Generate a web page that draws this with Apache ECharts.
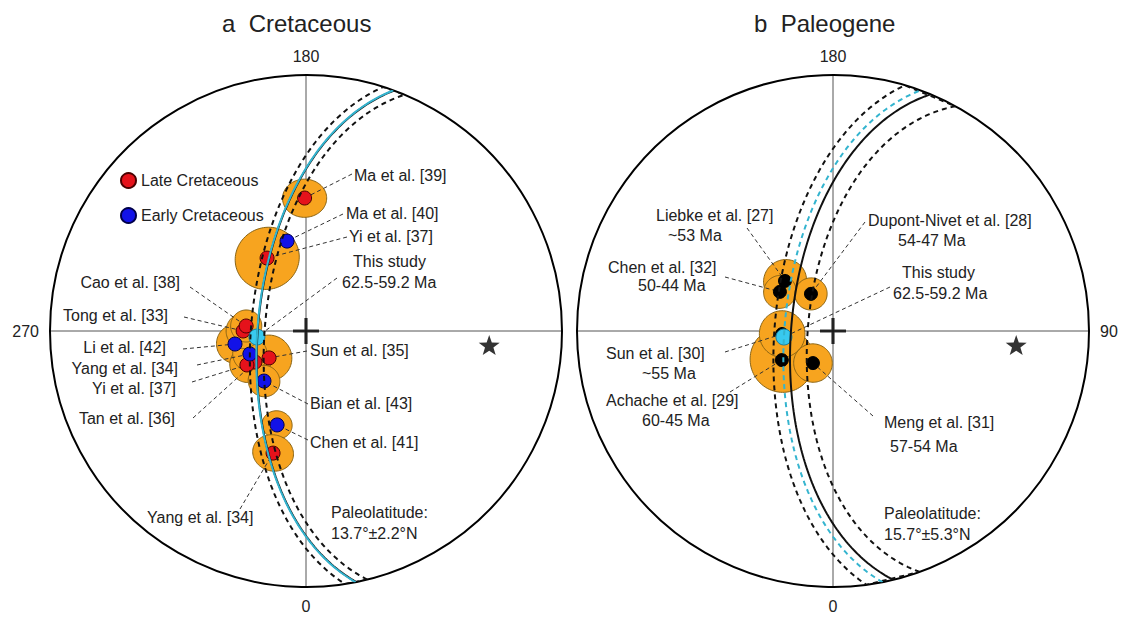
<!DOCTYPE html>
<html>
<head>
<meta charset="utf-8">
<script src="https://cdn.jsdelivr.net/npm/echarts@6/dist/echarts.min.js"></script>
<style>
  html, body { margin: 0; padding: 0; background: #fff; }
  #chart { width: 1126px; height: 617px; }
</style>
</head>
<body>
<div id="chart"></div>
<script>
// ---------------- data ----------------
// Sampling site (star), degrees
const siteLon = 85.6;
const siteLat = 29;

// Cretaceous paleopoles: longitude (°E), latitude (°N), A95 (°); listed in drawing order
const cretNames = ['Li et al. [42]', 'Sun et al. [35]', 'Tan et al. [36]', 'Yi et al. [37]', 'Yang et al. [34]',
  'Tong et al. [33]', 'Cao et al. [38]', 'Bian et al. [43]', 'Chen et al. [41]', 'Yang et al. [34]',
  'Yi et al. [37]', 'Ma et al. [40]', 'Ma et al. [39]'];
const cretAge = ['Early', 'Late', 'Late', 'Late', 'Early', 'Late', 'Late', 'Early', 'Early', 'Late', 'Late', 'Early', 'Late'];
const cretLon = [280.4, 306.1, 301.3, 299.9, 292.3, 270.0, 265.2, 320.0, 342.9, 344.9, 208.1, 191.9, 180.6];
const cretLat = [67.0, 75.5, 71.0, 68.3, 70.7, 70.0, 70.9, 69.2, 58.5, 49.1, 63.6, 60.6, 46.9];
const cretA95 = [6.0, 7.2, 5.0, 5.5, 5.5, 5.5, 5.0, 5.0, 4.6, 6.1, 10.0, 0, 6.5];
const cretPaleolat = 13.7;
const cretPaleolatErr = 2.2;

// Paleogene paleopoles; listed in drawing order
const paleoNames = ['Achache et al. [29]', 'Liebke et al. [27]', 'Chen et al. [32]', 'Dupont-Nivet et al. [28]', 'Sun et al. [30]', 'Meng et al. [31]'];
const paleoAges = ['60-45 Ma', '~53 Ma', '50-44 Ma', '54-47 Ma', '~55 Ma', '57-54 Ma'];
const paleoLon = [299.6, 223.8, 233.6, 210.7, 273.4, 328.0];
const paleoLat = [71.3, 67.9, 69.0, 76.3, 73.8, 78.0];
const paleoA95 = [10.2, 6.8, 5.2, 5.1, 7.3, 6.1];
const paleoPaleolat = 15.7;
const paleoPaleolatErr = 5.3;

// This study
const studyName = 'This study';
const studyAge = '62.5-59.2 Ma';
const studyLon = 277.0;
const studyLat = 74.3;

// Panel titles and azimuth tick labels
const panelTitles = ['a  Cretaceous', 'b  Paleogene'];
const leftTicks = { 0: '0', 180: '180', 270: '270' };
const rightTicks = { 0: '0', 90: '90', 180: '180' };
const legendNames = ['Late Cretaceous', 'Early Cretaceous'];

// ---------------- layout ----------------
const FONT = '"Liberation Sans", Arial, Helvetica, sans-serif';
const TXT = '#222';
const ORANGE = '#F7A41F';
const ORANGE_EDGE = '#8a6414';
const RED = '#E5121B';
const BLUE = '#1212E8';
const CYAN_LINE = '#33B4CF';
const CYAN_DOT = '#38C9EF';

// label text anchor (pixels), alignment, and where the leader line leaves the label
const cretLabelPos = [
  { x: 166, y: 347, align: 'right', lx: 183, ly: 349 },
  { x: 310, y: 350, align: 'left', lx: 307, ly: 351 },
  { x: 175, y: 418, align: 'right', lx: 193, ly: 418 },
  { x: 176, y: 388, align: 'right', lx: 192, ly: 382 },
  { x: 178, y: 368, align: 'right', lx: 197, ly: 365 },
  { x: 168, y: 315, align: 'right', lx: 184, ly: 317 },
  { x: 180, y: 282, align: 'right', lx: 190, ly: 287 },
  { x: 310, y: 403, align: 'left', lx: 308, ly: 404 },
  { x: 310, y: 442, align: 'left', lx: 308, ly: 440 },
  { x: 147, y: 517, align: 'left', lx: 240, ly: 509 },
  { x: 349, y: 236, align: 'left', lx: 347, ly: 237 },
  { x: 346, y: 213, align: 'left', lx: 343, ly: 214 },
  { x: 354, y: 175, align: 'left', lx: 352, ly: 174 }
];
const paleoLabelPos = [
  { x1: 606, y1: 400, x2: 642, y2: 420, lx: 730, ly: 392 },
  { x1: 656, y1: 215, x2: 668, y2: 235, lx: 747, ly: 228 },
  { x1: 608, y1: 267, x2: 638, y2: 285, lx: 725, ly: 277 },
  { x1: 868, y1: 220, x2: 898, y2: 240, lx: 865, ly: 222 },
  { x1: 606, y1: 353, x2: 642, y2: 373, lx: 725, ly: 352 },
  { x1: 884, y1: 422, x2: 890, y2: 446, lx: 873, ly: 416 }
];
const studyLabelPos = [
  { x1: 353, y1: 261, x2: 342, y2: 282, lx: 337, ly: 278 },
  { x1: 902, y1: 272, x2: 893, y2: 293, lx: 890, ly: 287 }
];

// ---------------- spherical helpers ----------------
const D2R = Math.PI / 180;
// Lambert equal-area polar projection: [radius (1 at equator), azimuth]
function eqArea(lon, lat) {
  const colat = (90 - lat) * D2R;
  return [Math.SQRT2 * Math.sin(colat / 2), ((lon % 360) + 360) % 360];
}
// point reached from (lon0, lat0) after angular distance rho along bearing brg
function dest(lon0, lat0, rho, brg) {
  const f0 = lat0 * D2R, r = rho * D2R, b = brg * D2R;
  const sf = Math.sin(f0) * Math.cos(r) + Math.cos(f0) * Math.sin(r) * Math.cos(b);
  const f = Math.asin(Math.max(-1, Math.min(1, sf)));
  const dl = Math.atan2(Math.sin(b) * Math.sin(r) * Math.cos(f0), Math.cos(r) - Math.sin(f0) * sf);
  return [lon0 + dl / D2R, f / D2R];
}
function angDist(lon1, lat1, lon2, lat2) {
  const c = Math.sin(lat1 * D2R) * Math.sin(lat2 * D2R) +
    Math.cos(lat1 * D2R) * Math.cos(lat2 * D2R) * Math.cos((lon2 - lon1) * D2R);
  return Math.acos(Math.max(-1, Math.min(1, c))) / D2R;
}
// confidence cone around a pole
function coneRing(lon, lat, a95) {
  const pts = [];
  for (let b = 0; b < 360; b += 4) {
    const p = dest(lon, lat, a95, b);
    pts.push(eqArea(p[0], p[1]));
  }
  return pts;
}
// locus of poles giving a paleolatitude at the site (northern hemisphere part)
function latArc(paleolat) {
  const rho = 90 - paleolat;
  const f0 = siteLat * D2R, r = rho * D2R;
  const c = -Math.sin(f0) * Math.cos(r) / (Math.cos(f0) * Math.sin(r));
  const b0 = Math.acos(Math.max(-1, Math.min(1, c))) / D2R;
  const n = 180, pts = [];
  for (let k = 0; k <= n; k++) {
    const p = dest(siteLon, siteLat, rho, -b0 + 2 * b0 * k / n);
    pts.push(eqArea(p[0], Math.max(0, p[1])));
  }
  return pts;
}
function band(paleolat, err) {
  const inner = latArc(paleolat + err);
  const outer = latArc(paleolat - err).reverse();
  return inner.concat(outer, [inner[0]]);
}
const studyPaleolat = 90 - angDist(siteLon, siteLat, studyLon, studyLat);

// ---------------- series builders ----------------
function coneSeries(pi, lons, lats, a95s) {
  const idx = a95s.map((v, i) => i).filter(i => a95s[i] > 0);
  return {
    type: 'custom', coordinateSystem: 'polar', polarIndex: pi, silent: true,
    data: idx.map(i => eqArea(lons[i], lats[i])),
    renderItem: function (params, api) {
      const i = idx[params.dataIndex];
      const ring = coneRing(lons[i], lats[i], a95s[i]).map(q => api.coord(q));
      return { type: 'polygon', shape: { points: ring },
        style: { fill: ORANGE, stroke: ORANGE_EDGE, lineWidth: 1 } };
    }
  };
}
function leaderSeries(pi, lons, lats, anchors, gap) {
  return {
    type: 'custom', coordinateSystem: 'polar', polarIndex: pi, silent: true,
    data: lons.map((l, i) => eqArea(l, lats[i])),
    renderItem: function (params, api) {
      const anc = anchors[params.dataIndex];
      const p = api.coord([api.value(0), api.value(1)]);
      const dx = anc.lx - p[0], dy = anc.ly - p[1];
      const d = Math.sqrt(dx * dx + dy * dy) || 1;
      return { type: 'line',
        shape: { x1: anc.lx, y1: anc.ly, x2: p[0] + dx / d * gap, y2: p[1] + dy / d * gap },
        style: { stroke: '#333', lineWidth: 1, lineDash: [4, 3] } };
    }
  };
}
function dotSeries(pi, name, points, color, border, size) {
  return {
    type: 'scatter', name: name, coordinateSystem: 'polar', polarIndex: pi, silent: true,
    data: points, symbol: 'circle', symbolSize: size,
    itemStyle: { color: color, borderColor: border, borderWidth: 1, opacity: 1 }
  };
}
function arcSeries(pi, points, color, width, dashed) {
  return {
    type: 'line', coordinateSystem: 'polar', polarIndex: pi, silent: true,
    data: points, showSymbol: false, symbol: 'none', smooth: false,
    lineStyle: { color: color, width: width, type: dashed ? [5, 4] : 'solid' },
    emphasis: { disabled: true }
  };
}
const STAR = 'path://M0,-10L2.35,-3.24L9.51,-3.09L3.8,1.24L5.88,8.09L0,4.1L-5.88,8.09L-3.8,1.24L-9.51,-3.09L-2.35,-3.24Z';
const PLUS = 'path://M-1.6,-13H1.6V-1.6H13V1.6H1.6V13H-1.6V1.6H-13V-1.6H-1.6Z';
function markerSeries(pi) {
  return [
    { type: 'scatter', coordinateSystem: 'polar', polarIndex: pi, silent: true,
      data: [eqArea(siteLon, siteLat)], symbol: STAR, symbolSize: [21, 20],
      itemStyle: { color: '#000' } },
    { type: 'scatter', coordinateSystem: 'polar', polarIndex: pi, silent: true,
      data: [eqArea(0, 90)], symbol: PLUS, symbolSize: 26,
      itemStyle: { color: '#000' } }
  ];
}

function angleAxisFor(pi, ticks) {
  return {
    polarIndex: pi, type: 'value', min: 0, max: 360, interval: 90,
    startAngle: 270, clockwise: false,
    axisLine: { lineStyle: { color: '#000', width: 2 } },
    axisTick: { show: false },
    axisLabel: { margin: 11, fontSize: 16, color: TXT, fontFamily: FONT,
      formatter: v => ticks[v] || '' },
    splitLine: { show: true, lineStyle: { color: '#555', width: 1 } }
  };
}

// ---------------- series ----------------
const cretPts = cretLon.map((l, i) => eqArea(l, cretLat[i]));
const late = cretPts.filter((p, i) => cretAge[i] === 'Late');
const early = cretPts.filter((p, i) => cretAge[i] === 'Early');
const paleoPts = paleoLon.map((l, i) => eqArea(l, paleoLat[i]));
const studyPt = eqArea(studyLon, studyLat);

const series = [
  // Cretaceous panel
  coneSeries(0, cretLon, cretLat, cretA95),
  leaderSeries(0, cretLon, cretLat, cretLabelPos, 6),
  leaderSeries(0, [studyLon], [studyLat], [studyLabelPos[0]], 7),
  dotSeries(0, legendNames[0], late, RED, '#4a0000', 14),
  dotSeries(0, legendNames[1], early, BLUE, '#00004a', 14),
  arcSeries(0, band(cretPaleolat, cretPaleolatErr), '#111', 2, true),
  arcSeries(0, latArc(cretPaleolat), '#111', 2, false),
  arcSeries(0, latArc(studyPaleolat), CYAN_LINE, 2, false),
  dotSeries(0, studyName, [studyPt], CYAN_DOT, '#1b7f9c', 16),
  ...markerSeries(0),
  // Paleogene panel
  coneSeries(1, paleoLon, paleoLat, paleoA95),
  leaderSeries(1, paleoLon, paleoLat, paleoLabelPos, 6),
  leaderSeries(1, [studyLon], [studyLat], [studyLabelPos[1]], 7),
  dotSeries(1, 'Paleogene poles', paleoPts, '#000', '#000', 13),
  arcSeries(1, band(paleoPaleolat, paleoPaleolatErr), '#111', 2, true),
  arcSeries(1, latArc(studyPaleolat), CYAN_LINE, 2, true),
  arcSeries(1, latArc(paleoPaleolat), '#111', 2, false),
  dotSeries(1, studyName, [studyPt], CYAN_DOT, '#1b7f9c', 16),
  ...markerSeries(1)
];

// ---------------- text ----------------
function txt(x, y, text, align, size) {
  return { type: 'text', x: x, y: y, silent: true, z: 10,
    style: { text: text, fill: TXT, font: (size || 16) + 'px ' + FONT,
      align: align || 'left', verticalAlign: 'middle',
      textAlign: align || 'left', textVerticalAlign: 'middle' } };
}
const graphics = [
  txt(222, 23, panelTitles[0], 'left', 24),
  txt(754, 23, panelTitles[1], 'left', 24)
];
cretNames.forEach((n, i) => {
  const p = cretLabelPos[i];
  graphics.push(txt(p.x, p.y, n, p.align));
});
paleoNames.forEach((n, i) => {
  const p = paleoLabelPos[i];
  graphics.push(txt(p.x1, p.y1, n));
  graphics.push(txt(p.x2, p.y2, paleoAges[i]));
});
studyLabelPos.forEach(p => {
  graphics.push(txt(p.x1, p.y1, studyName));
  graphics.push(txt(p.x2, p.y2, studyAge));
});
graphics.push(txt(331, 512, 'Paleolatitude:'));
graphics.push(txt(331, 533, cretPaleolat.toFixed(1) + '°±' + cretPaleolatErr.toFixed(1) + '°N'));
graphics.push(txt(884, 513, 'Paleolatitude:'));
graphics.push(txt(884, 534, paleoPaleolat.toFixed(1) + '°±' + paleoPaleolatErr.toFixed(1) + '°N'));

const chart = echarts.init(document.getElementById('chart'), null, { renderer: 'svg' });
chart.setOption({
  animation: false,
  backgroundColor: '#fff',
  polar: [
    { center: [306, 331], radius: 256 },
    { center: [833, 331], radius: 256 }
  ],
  angleAxis: [angleAxisFor(0, leftTicks), angleAxisFor(1, rightTicks)],
  radiusAxis: [
    { polarIndex: 0, type: 'value', min: 0, max: 1, show: false },
    { polarIndex: 1, type: 'value', min: 0, max: 1, show: false }
  ],
  legend: {
    data: legendNames, orient: 'vertical', left: 120, top: 172, padding: 0,
    itemWidth: 15, itemHeight: 15, itemGap: 18, icon: 'circle', selectedMode: false,
    textStyle: { fontSize: 16, color: TXT, fontFamily: FONT }
  },
  series: series,
  graphic: graphics
});
</script>
</body>
</html>
